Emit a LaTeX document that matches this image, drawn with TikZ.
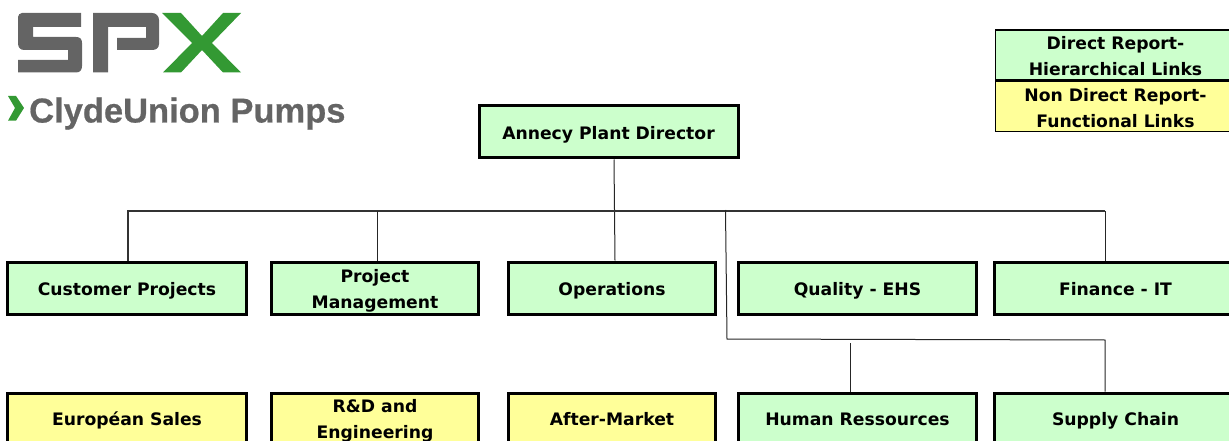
\documentclass[tikz,border=0pt]{standalone}
\usepackage{fontspec}
\setmainfont{DejaVu Sans}
\newfontfamily\logofont[BoldFeatures={FakeBold=0.6}]{Liberation Sans}
\definecolor{gbox}{HTML}{CCFFCC}
\definecolor{ybox}{HTML}{FFFF99}
\definecolor{lgray}{HTML}{646464}
\definecolor{lgreen}{HTML}{339933}
\tikzset{x=1pt,y=-1pt,
 orgbox/.style={draw=black,line width=3pt,inner sep=0pt,anchor=north west,align=center,font=\fontsize{17.2}{26}\selectfont\bfseries},
 gb/.style={orgbox,fill=gbox},
 yb/.style={orgbox,fill=ybox},
 conn/.style={draw=black!80,line width=1.2pt},
 thinconn/.style={draw=black!85,line width=1pt},
 lg/.style={orgbox,line width=1.7pt}
}
\newcommand{\orgtext}[1]{\raisebox{-6.8pt}[0pt][0pt]{\begin{tabular}{@{}c@{}}#1\end{tabular}}}
\newcommand{\orgnode}[7]{\node[#1,minimum width=#5pt-3pt,minimum height=#6pt-3pt] (#2) at (#3,#4) {\orgtext{#7}};}
\begin{document}
\begin{tikzpicture}
\useasboundingbox (0,0) rectangle (1229,441);
\clip (0,0) rectangle (1229,441);
% logo
\fill[lgray] (22,13) -- (81,13) -- (81,27) -- (33,27) -- (33,37) -- (76,37) .. controls (80,37) and (82,39) .. (82,43) -- (82,66) .. controls (82,70) and (80,72.5) .. (76,72.5) -- (18,72.5) -- (18,60) -- (68,60) -- (68,50) -- (24,50) .. controls (20,50) and (18,47) .. (18,43) -- (18,17) .. controls (18,15) and (20,13) .. (22,13) -- cycle;
\fill[lgray] (93,13) -- (152,13) .. controls (156,13) and (159,16) .. (159,20) -- (159,44) .. controls (159,48) and (156,50) .. (152,50) -- (117,50) -- (117,38) -- (146,38) -- (146,27) -- (108,27) -- (108,72.5) -- (93,72.5) -- cycle;
\fill[lgreen] (162,13) -- (181,13) -- (202,36) -- (223,13) -- (241,13) -- (212,43) -- (241,72.5) -- (223,72.5) -- (202,50) -- (181,72.5) -- (163,72.5) -- (192,43) -- cycle;
\fill[lgreen] (8,96) -- (16,96) -- (24,108) -- (16,120.7) -- (8,120.7) -- (15,108) -- cycle;
\node[inner sep=0pt,anchor=base west,text=lgray,font=\logofont\fontsize{34.5}{34.5}\selectfont\bfseries] (brand) at (29,122.5) {ClydeUnion Pumps};
% boxes
\orgnode{gb}{dir}{477.5}{104}{262}{55.5}{Annecy Plant Director}
\orgnode{gb}{cust}{6}{260.5}{242}{55}{Customer Projects}
\orgnode{gb}{pm}{270}{260.5}{210}{55}{Project\\Management}
\orgnode{gb}{ops}{507}{260.5}{210}{55}{Operations}
\orgnode{gb}{qual}{737}{260.5}{241}{55}{Quality - EHS}
\orgnode{gb}{fin}{993}{260.5}{245}{55}{Finance - IT}
\orgnode{yb}{sales}{6}{391.5}{242}{53}{Européan Sales}
\orgnode{yb}{rd}{270}{391.5}{210}{53}{R\&D and\\Engineering}
\orgnode{yb}{am}{507}{391.5}{210}{53}{After-Market}
\orgnode{gb}{hr}{737}{391.5}{241}{53}{Human Ressources}
\orgnode{gb}{sc}{993}{391.5}{245}{53}{Supply Chain}
% legend
\node[lg,fill=gbox,minimum width=240.3pt,minimum height=50.2pt] (lgA) at (994.5,29) {\orgtext{Direct Report-\\Hierarchical Links}};
\node[lg,fill=ybox,minimum width=240.3pt,minimum height=50.2pt] (lgB) at (994.5,80.4) {\orgtext{Non Direct Report-\\Functional Links}};
% connectors
\coordinate (busl) at (128,211);
\coordinate (busr) at (1105,211);
\coordinate (hrtop) at (850.5,343);
\coordinate (j) at (725.5,210);
\coordinate (k) at (727,339);
\coordinate (l) at (1105,340);
\draw[thinconn] ([xshift=5.5pt]dir.south) -- ([xshift=3pt]ops.north);
\draw[conn] ([xshift=1pt]cust.north) |- (busr);
\draw[thinconn] (busr) -- (busr |- fin.north);
\draw[thinconn] ([xshift=2pt]pm.north) -- ([xshift=2pt]pm.north |- busl);
\draw[thinconn] (j) -- (k) -- (l) -- (l |- sc.north);
\draw[thinconn] (hrtop) -- (hrtop |- hr.north);
\end{tikzpicture}
\end{document}
